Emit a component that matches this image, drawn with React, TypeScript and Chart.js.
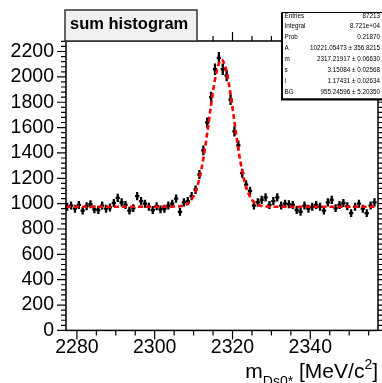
import React, { useEffect, useRef } from 'react';
import { Chart, registerables } from 'chart.js';
Chart.register(...registerables);

const FONT = '"Liberation Sans", Arial, Helvetica, sans-serif';

// Histogram bins (centers, MeV/c^2), 1 MeV wide
const binStart = 2277.5;
const binCenters: number[] = Array.from({ length: 80 }, (_, i) => binStart + i);
const counts: number[] = [
  975, 985, 960, 990, 945, 980, 995, 955, 950, 985,
  960, 970, 1005, 1045, 1010, 990, 945, 965, 1060, 1020,
  1000, 975, 950, 980, 955, 960, 985, 1000, 1040, 935,
  1010, 1020, 1060, 1110, 1230, 1420, 1640, 1840, 2060, 2150,
  2060, 2010, 1820, 1570, 1460, 1240, 1150, 1100, 985, 1010,
  1030, 1050, 990, 1020, 1050, 985, 1000, 995, 990, 950,
  935, 985, 960, 975, 990, 975, 945, 1010, 1030, 965,
  990, 1005, 980, 925, 975, 1000, 960, 925, 985, 1010,
];

// Fit curve samples
const fitX: number[] = [2277.2, 2300, 2305, 2308, 2309.5, 2310.5, 2311.5, 2312.5, 2313.5, 2314.5, 2315.5, 2316.5, 2317.2, 2318, 2318.5, 2319.5, 2320.5, 2321.5, 2322.5, 2323.5, 2324.5, 2325.5, 2327, 2330, 2357.4];
const fitY: number[] = [975, 975, 977, 990, 1035, 1095, 1200, 1355, 1555, 1780, 1980, 2105, 2135, 2095, 2040, 1865, 1645, 1430, 1255, 1130, 1055, 1012, 985, 976, 975];

const xLabels: number[] = [2280, 2300, 2320, 2340];
const yLabels: number[] = [0, 200, 400, 600, 800, 1000, 1200, 1400, 1600, 1800, 2000, 2200];

const titleText = 'sum histogram';
const statRows: [string, string][] = [
  ['Entries', '87213'],
  ['Integral', '8.721e+04'],
  ['Prob', '0.21870'],
  ['A', '10221.05473 ± 356.8215'],
  ['m', '2317.21917 ± 0.06630'],
  ['s', '3.15084 ± 0.02568'],
  ['l', '1.17431 ± 0.02634'],
  ['BG', '955.24596 ± 5.20350'],
];

const rootPlugin = {
  id: 'rootStyle',
  beforeDatasetsDraw(chart: any) {
    const ctx = chart.ctx;
    const xs = chart.scales.x, ys = chart.scales.y;
    ctx.save();
    ctx.strokeStyle = '#000';
    ctx.lineWidth = 2.3;
    binCenters.forEach((c, i) => {
      const v = counts[i];
      const e = Math.sqrt(v);
      const px = xs.getPixelForValue(c);
      const py = ys.getPixelForValue(v);
      ctx.beginPath();
      ctx.moveTo(px, ys.getPixelForValue(v + e));
      ctx.lineTo(px, ys.getPixelForValue(v - e));
      ctx.moveTo(xs.getPixelForValue(c - 0.55), py);
      ctx.lineTo(xs.getPixelForValue(c + 0.55), py);
      ctx.stroke();
    });
    ctx.restore();
  },
  afterDraw(chart: any) {
    const ctx = chart.ctx;
    const a = chart.chartArea;
    const xs = chart.scales.x, ys = chart.scales.y;
    ctx.save();
    // frame
    ctx.strokeStyle = '#000';
    ctx.lineWidth = 1.5;
    ctx.strokeRect(a.left, a.top, a.right - a.left, a.bottom - a.top);
    // ticks
    ctx.lineWidth = 1.2;
    ctx.beginPath();
    xs.ticks.forEach((t: any) => {
      const px = xs.getPixelForValue(t.value);
      const len = xLabels.includes(t.value) ? 9 : 5;
      ctx.moveTo(px, a.bottom); ctx.lineTo(px, a.bottom + len);
      ctx.moveTo(px, a.top); ctx.lineTo(px, a.top - len);
    });
    ys.ticks.forEach((t: any) => {
      const py = ys.getPixelForValue(t.value);
      const len = yLabels.includes(t.value) ? 9 : 5;
      ctx.moveTo(a.left, py); ctx.lineTo(a.left - len, py);
      ctx.moveTo(a.right, py); ctx.lineTo(a.right + len, py);
    });
    ctx.stroke();

    // title box
    ctx.fillStyle = '#f0f0f0';
    ctx.fillRect(65, 10, 132, 31);
    ctx.strokeStyle = '#333';
    ctx.lineWidth = 1.5;
    ctx.strokeRect(65, 10, 132, 31);
    ctx.fillStyle = '#000';
    ctx.font = `bold 16.5px ${FONT}`;
    ctx.textAlign = 'left';
    ctx.textBaseline = 'alphabetic';
    ctx.fillText(titleText, 70, 29);

    // stat box
    const sx = 282.5, sy = 12.5, sw = 102, sh = 86.5;
    ctx.fillStyle = '#fff';
    ctx.fillRect(sx, sy, sw, sh);
    ctx.strokeStyle = '#000';
    ctx.lineWidth = 1;
    ctx.strokeRect(sx, sy, sw, sh);
    ctx.lineWidth = 2;
    ctx.beginPath();
    ctx.moveTo(sx - 0.5, sy); ctx.lineTo(sx - 0.5, sy + sh + 0.5); ctx.lineTo(sx + sw, sy + sh + 0.5);
    ctx.stroke();
    ctx.fillStyle = '#000';
    ctx.font = `6.3px ${FONT}`;
    ctx.textBaseline = 'middle';
    const rowH = 10.9;
    statRows.forEach(([k, v], i) => {
      const ry = 15.8 + i * rowH;
      ctx.textAlign = 'left';
      ctx.fillText(k, 284.5, ry);
      ctx.textAlign = 'right';
      ctx.fillText(v, 380, ry);
    });

    // x axis title: m_{Ds0*} [MeV/c^2]
    const big = `21px ${FONT}`;
    const small = `14px ${FONT}`;
    const parts: [string, string, number][] = [
      ['m', big, 0],
      ['Ds0*', small, 8],
      [' [MeV/c', big, 0],
      ['2', small, -9],
      [']', big, 0],
    ];
    let total = 0;
    parts.forEach(([t, f]) => { ctx.font = f; total += ctx.measureText(t).width; });
    let cx = 378 - total;
    const base = 378;
    ctx.textAlign = 'left';
    ctx.textBaseline = 'alphabetic';
    parts.forEach(([t, f, dy]) => {
      ctx.font = f;
      ctx.fillText(t, cx, base + dy);
      cx += ctx.measureText(t).width;
    });
    ctx.restore();
  },
};

export default function App() {
  const ref = useRef<HTMLCanvasElement | null>(null);
  useEffect(() => {
    document.body.style.margin = '0';
    const canvas = ref.current;
    if (!canvas) return;
    const chart = new Chart(canvas, {
      type: 'scatter',
      data: {
        datasets: [
          {
            type: 'line',
            data: fitX.map((x, i) => ({ x, y: fitY[i] })),
            borderColor: '#ff0000',
            borderWidth: 2.6,
            borderDash: [5, 3],
            pointRadius: 0,
            cubicInterpolationMode: 'monotone',
            order: 0,
          } as any,
          {
            type: 'scatter',
            data: binCenters.map((x, i) => ({ x, y: counts[i] })),
            pointRadius: 1.5,
            pointStyle: 'rect',
            backgroundColor: '#000',
            borderColor: '#000',
            borderWidth: 0,
            order: 1,
          } as any,
        ],
      },
      options: {
        responsive: false,
        animation: false,
        devicePixelRatio: 1,
        layout: { padding: { top: 41, right: 2, left: 0, bottom: 0 } },
        plugins: { legend: { display: false }, tooltip: { enabled: false }, title: { display: false } },
        scales: {
          x: {
            type: 'linear',
            min: 2277.2,
            max: 2357.4,
            afterFit: (s: any) => { s.height = 52.6; },
            grid: { display: false, drawTicks: false },
            border: { display: false },
            ticks: {
              stepSize: 5,
              includeBounds: false,
              autoSkip: false,
              maxRotation: 0,
              padding: 6,
              color: '#000',
              font: { family: FONT, size: 19.5 },
              callback: (v: any) => (xLabels.includes(Number(v)) ? String(v) : ''),
            },
          },
          y: {
            type: 'linear',
            min: 0,
            max: 2283,
            afterFit: (s: any) => { s.width = 66; },
            grid: { display: false, drawTicks: false },
            border: { display: false },
            ticks: {
              stepSize: 40,
              includeBounds: false,
              autoSkip: false,
              padding: 12,
              color: '#000',
              font: { family: FONT, size: 19.5 },
              callback: (v: any) => (yLabels.includes(Number(v)) ? String(v) : ''),
            },
          },
        },
      } as any,
      plugins: [rootPlugin],
    });
    return () => chart.destroy();
  }, []);
  return (
    <div style={{ position: 'fixed', left: 0, top: 0, width: 382, height: 383 }}>
      <canvas ref={ref} width={382} height={383} style={{ width: 382, height: 383, display: 'block' }} />
    </div>
  );
}
